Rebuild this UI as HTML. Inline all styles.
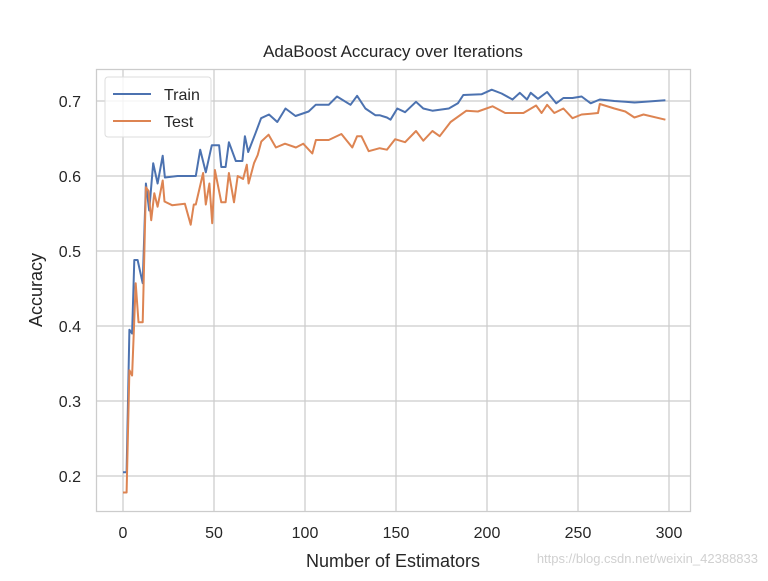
<!DOCTYPE html>
<html><head><meta charset="utf-8"><style>
body{margin:0;background:#fff;}
svg text{font-family:"Liberation Sans",Arial,sans-serif;}
</style></head><body>
<svg id="chart" width="768" height="576">
<rect x="0" y="0" width="768" height="576" fill="#fff"/>
<g id="grid"></g>
<rect x="96.5" y="69.5" width="594" height="442" fill="none" stroke="#ccc" stroke-width="1.25"/>
<g id="ticks"></g>
<g id="series"></g>
<text x="393" y="57" font-size="17" text-anchor="middle" fill="#262626">AdaBoost Accuracy over Iterations</text>
<text x="393" y="567" font-size="18" text-anchor="middle" fill="#262626">Number of Estimators</text>
<text transform="translate(42,290) rotate(-90)" font-size="18" text-anchor="middle" fill="#262626">Accuracy</text>
<text x="758" y="563" font-size="13" text-anchor="end" fill="#d0d0d0">https://blog.csdn.net/weixin_42388833</text>
<g>
<rect x="105" y="77" width="106" height="60" rx="3" fill="#fff" fill-opacity="0.8" stroke="#ddd"/>
<line x1="113" y1="94" x2="151" y2="94" stroke="#4c72b0" stroke-width="2"/>
<text x="164" y="100" font-size="16" fill="#262626">Train</text>
<line x1="113" y1="121" x2="151" y2="121" stroke="#dd8452" stroke-width="2"/>
<text x="164" y="127" font-size="16" fill="#262626">Test</text>
</g>
</svg>
<script>
const xTicks=[0,50,100,150,200,250,300];
const yTicks=[0.2,0.3,0.4,0.5,0.6,0.7];
const trainX=[0,2,3.5,5,6.2,8,10.8,12.6,14.4,16.6,19,21.8,23,30,40,42.4,45.5,48.8,52.8,54,56.4,58.2,62,65.6,67,68.8,72.8,75.9,80.2,84.8,89.3,94.8,102,105.9,113,117.6,125,128.6,133.2,138.6,141,145,147,150.7,155,161,165,170,179,184,187,197,202.6,208,214,218,222,224,228,233,238,242,247,252,257,262,270,276,281,298];
const trainY=[0.205,0.205,0.395,0.39,0.488,0.488,0.457,0.59,0.554,0.617,0.59,0.627,0.598,0.6,0.6,0.635,0.605,0.641,0.641,0.612,0.612,0.645,0.62,0.62,0.653,0.632,0.657,0.677,0.682,0.672,0.69,0.68,0.686,0.695,0.695,0.706,0.695,0.707,0.69,0.681,0.681,0.678,0.675,0.69,0.685,0.699,0.69,0.687,0.69,0.697,0.708,0.709,0.715,0.71,0.702,0.711,0.702,0.711,0.703,0.712,0.697,0.704,0.704,0.706,0.697,0.702,0.7,0.699,0.698,0.701];
const testX=[0,2,3.5,5,7,8.5,10.8,12.6,14,15.5,17.2,19,21.8,22.8,27,34,37.2,38.9,40,44,45.5,47.5,49,50.5,54,56.4,58.2,61,63,66,68,69,72,74,76,80,84,89,95,99,104,106,113,120,126,128.6,131,135,141,145,149.5,155,161,165,170,174,180,188.7,195,203,210,220,227,230,233,237,242,247,252,257,261,262,270,276,281,286,298];
const testY=[0.178,0.178,0.341,0.334,0.457,0.405,0.405,0.585,0.58,0.541,0.577,0.559,0.594,0.566,0.561,0.563,0.535,0.562,0.562,0.604,0.562,0.59,0.537,0.608,0.565,0.565,0.604,0.565,0.6,0.596,0.615,0.59,0.617,0.628,0.646,0.655,0.638,0.643,0.638,0.643,0.63,0.648,0.648,0.656,0.638,0.653,0.653,0.633,0.637,0.635,0.649,0.645,0.66,0.647,0.66,0.653,0.672,0.687,0.686,0.693,0.684,0.684,0.694,0.684,0.695,0.684,0.69,0.677,0.682,0.683,0.684,0.696,0.69,0.686,0.678,0.682,0.675];
const NS="http://www.w3.org/2000/svg";
const L=96,R=691,T=69,B=512;
function sx(v){return 123+v*(546/300);}
function sy(v){return 101+(0.7-v)*750;}
const grid=document.getElementById('grid'),ticks=document.getElementById('ticks'),ser=document.getElementById('series');
xTicks.forEach(t=>{
 const l=document.createElementNS(NS,'line');
 
 
 l.setAttribute('x1',sx(t));l.setAttribute('x2',sx(t));l.setAttribute('y1',T);l.setAttribute('y2',B);
 l.setAttribute('stroke','#ccc');l.setAttribute('stroke-width','1.25');grid.appendChild(l);
 const tx=document.createElementNS(NS,'text');
 
 
 tx.setAttribute('x',sx(t));tx.setAttribute('y',B+26);tx.setAttribute('font-size','16');tx.setAttribute('text-anchor','middle');tx.setAttribute('fill','#262626');
 tx.textContent=t;ticks.appendChild(tx);
});
yTicks.forEach(t=>{
 const l=document.createElementNS(NS,'line');
 
 
 l.setAttribute('x1',L);l.setAttribute('x2',R);l.setAttribute('y1',sy(t));l.setAttribute('y2',sy(t));
 l.setAttribute('stroke','#ccc');l.setAttribute('stroke-width','1.25');grid.appendChild(l);
 const tx=document.createElementNS(NS,'text');
 
 
 tx.setAttribute('x',L-15);tx.setAttribute('y',sy(t)+6);tx.setAttribute('font-size','16');tx.setAttribute('text-anchor','end');tx.setAttribute('fill','#262626');
 tx.textContent=t.toFixed(1);ticks.appendChild(tx);
});
function draw(xs,ys,color,name){
 const p=document.createElementNS(NS,'polyline');
 
 
 p.setAttribute('points',xs.map((x,i)=>sx(x).toFixed(1)+','+sy(ys[i]).toFixed(1)).join(' '));
 p.setAttribute('fill','none');p.setAttribute('stroke',color);p.setAttribute('stroke-width','2');p.setAttribute('stroke-linejoin','round');
 ser.appendChild(p);
}
draw(trainX,trainY,'#4c72b0','train-line');
draw(testX,testY,'#dd8452','test-line');
</script>
</body></html>
